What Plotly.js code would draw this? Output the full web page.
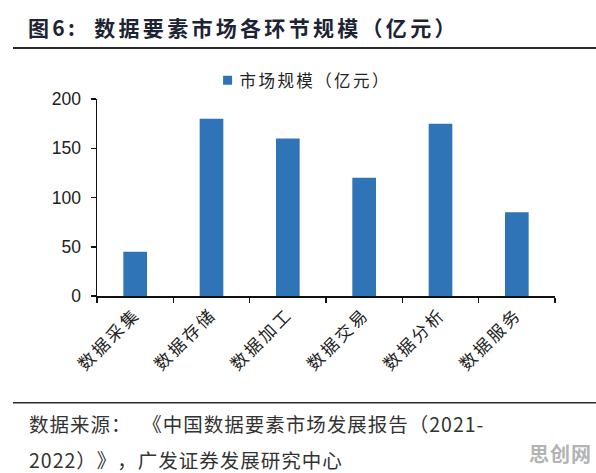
<!DOCTYPE html>
<html>
<head>
<meta charset="utf-8">
<script src="https://cdn.plot.ly/plotly-3.0.1.min.js"></script>
<style>
  html, body { margin: 0; padding: 0; background: #fff; }
  /* keep full-width punctuation at full width */
  body { text-spacing-trim: space-all; }
  #chart { width: 596px; height: 473px; }
  /* wider tracking for the CJK text, closer to a report typeface
     (unscoped so that Plotly's text measurement sees it too) */
  .gtitle { letter-spacing: 3.3px; }
  .legendtext { letter-spacing: 2.4px; }
  .annotation-text { letter-spacing: 1px; }
  .xtick text { letter-spacing: 2.8px; }
  /* smaller legend swatch sitting closer to its label */
  #chart .legendpoints path { transform: translate(28px, 0) scale(0.75); }
</style>
</head>
<body>
<div id="chart"></div>
<script>
// Market size of each stage of the data-factor market (100 million yuan)
const categories = ['数据采集', '数据存储', '数据加工', '数据交易', '数据分析', '数据服务'];
const marketSize = [45, 180, 160, 120, 175, 85];
const seriesName = '市场规模（亿元）';
const yTicks = [0, 50, 100, 150, 200];

const titleText = '图6:  数据要素市场各环节规模（亿元）';
const sourceLine1 = '数据来源：  《中国数据要素市场发展报告（2021-';
const sourceLine2 = '2022）》，广发证券发展研究中心';
const watermark = '思创网';

const CJK = '"Noto Sans CJK SC", "Noto Sans", sans-serif';
const LATIN = '"Liberation Sans", Arial, sans-serif';

const trace = {
  type: 'bar',
  x: categories,
  y: marketSize,
  name: seriesName,
  marker: { color: '#2E74B7' },
  showlegend: true,
  hoverinfo: 'x+y'
};

const layout = {
  width: 596,
  height: 473,
  margin: { l: 97, r: 41, t: 99, b: 177 },
  paper_bgcolor: '#ffffff',
  plot_bgcolor: '#ffffff',
  bargap: 0.69,
  title: {
    text: titleText,
    font: { family: CJK, size: 21, color: '#1c2433', weight: 700 },
    xref: 'container', x: 28 / 596, xanchor: 'left',
    yref: 'container', y: 1 - 29 / 473, yanchor: 'middle'
  },
  showlegend: true,
  legend: {
    orientation: 'h',
    xref: 'paper', x: 0.224, xanchor: 'left',
    yref: 'paper', y: 1.094, yanchor: 'middle',
    font: { family: CJK, size: 16.5, color: '#222' },
    bgcolor: 'rgba(0,0,0,0)'
  },
  xaxis: {
    type: 'category',
    showgrid: false,
    zeroline: false,
    showline: true,
    linecolor: '#111',
    linewidth: 1.5,
    ticks: 'outside',
    tickson: 'boundaries',
    ticklen: 5,
    tickwidth: 1.5,
    tickcolor: '#111',
    tickangle: -45,
    tickfont: { family: CJK, size: 17, color: '#222' }
  },
  yaxis: {
    range: [0, 200],
    tickvals: yTicks,
    ticktext: yTicks.map(String),
    showgrid: false,
    zeroline: false,
    showline: true,
    linecolor: '#111',
    linewidth: 1.5,
    ticks: 'outside',
    ticklen: 5,
    tickwidth: 1.5,
    tickcolor: '#111',
    ticklabelstandoff: 6,
    tickfont: { family: LATIN, size: 17.5, color: '#222' }
  },
  shapes: [
    { type: 'line', xref: 'paper', yref: 'paper',
      x0: -0.1834, x1: 1.0895, y0: 1.2589, y1: 1.2589,
      line: { color: '#2b2b2b', width: 2 } },
    { type: 'line', xref: 'paper', yref: 'paper',
      x0: -0.1834, x1: 1.0895, y0: -0.5416, y1: -0.5416,
      line: { color: '#2b2b2b', width: 1.5 } }
  ],
  annotations: [
    { text: sourceLine1, xref: 'paper', yref: 'paper',
      x: -0.1528, xanchor: 'left', align: 'left', y: -0.6447, yanchor: 'middle',
      showarrow: false, font: { family: CJK, size: 19.5, color: '#333' } },
    { text: sourceLine2, xref: 'paper', yref: 'paper',
      x: -0.1528, xanchor: 'left', align: 'left', y: -0.8275, yanchor: 'middle',
      showarrow: false, font: { family: CJK, size: 19.5, color: '#333' } },
    { text: watermark, xref: 'paper', yref: 'paper',
      x: 1.0115, xanchor: 'center', y: -0.802, yanchor: 'middle',
      showarrow: false, font: { family: CJK, size: 20, color: '#b3b3b3', weight: 700 } }
  ]
};

Plotly.newPlot('chart', [trace], layout, { displayModeBar: false, staticPlot: true });
</script>
</body>
</html>
